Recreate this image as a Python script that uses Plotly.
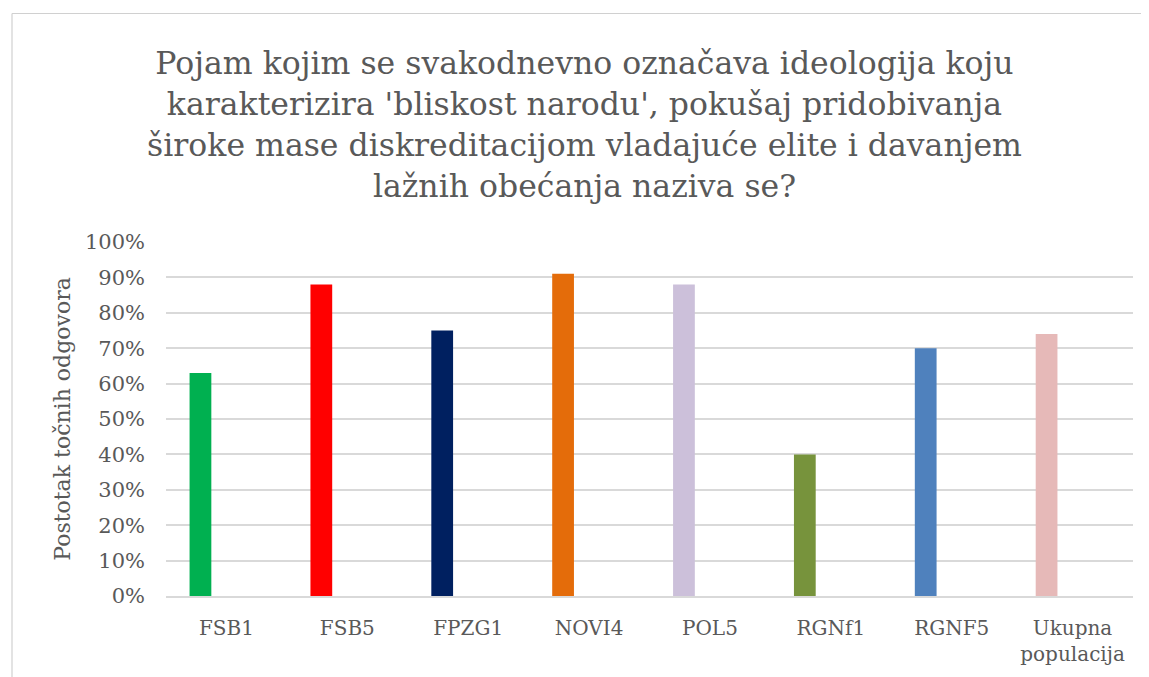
import plotly.graph_objects as go

categories = ["FSB1", "FSB5", "FPZG1", "NOVI4", "POL5", "RGNf1", "RGNF5", "Ukupna<br>populacija"]
values = [0.63, 0.88, 0.75, 0.91, 0.88, 0.40, 0.70, 0.74]
colors = ["#00B050", "#FF0000", "#002060", "#E46C0A", "#CCC0DA", "#77933C", "#4F81BD", "#E6B9B8"]
y_ticks = [0, 0.1, 0.2, 0.3, 0.4, 0.5, 0.6, 0.7, 0.8, 0.9, 1.0]
y_labels = ["0%", "10%", "20%", "30%", "40%", "50%", "60%", "70%", "80%", "90%", "100%"]
title_text = ("Pojam kojim se svakodnevno označava ideologija koju<br>"
              "karakterizira 'bliskost narodu', pokušaj pridobivanja<br>"
              "široke mase diskreditacijom vladajuće elite i davanjem<br>"
              "lažnih obećanja naziva se?")
y_title = "Postotak točnih odgovora"

FONT = "DejaVu Serif"
GREY = "#595959"

# page body has an 8px default margin
OFF = 8
W, H = 1149 - OFF, 677 - OFF
L, R, T, B = 166 - OFF, 16, 242 - OFF, 81
PW, PH = W - L - R, H - T - B

def px_x(x):  # screen x -> paper
    return (x - OFF - L) / PW

def px_y(y):  # screen y -> paper
    return (H - B - (y - OFF)) / PH

fig = go.Figure()
fig.add_trace(go.Bar(
    x=categories, y=values, marker=dict(color=colors, line=dict(width=0)),
    width=0.18, offset=-0.305, hoverinfo="x+y",
))

fig.update_layout(
    width=W, height=H,
    margin=dict(l=L, r=R, t=T, b=B),
    paper_bgcolor="white", plot_bgcolor="white",
    showlegend=False,
    font=dict(family=FONT, color=GREY, size=20),
    title=dict(text=title_text, x=(584.5 - OFF) / W, xref="container", xanchor="center",
               y=1 - (74 - OFF) / H, yref="container", yanchor="top",
               font=dict(family=FONT, size=31.5, color=GREY)),
    xaxis=dict(range=[-0.5, 7.5], showgrid=False, showline=True, linecolor="#d9d9d9",
               linewidth=1.5, ticks="", tickfont=dict(size=20, color=GREY),
               ticklabelstandoff=13, fixedrange=True),
    yaxis=dict(range=[0, 1], tickvals=y_ticks, ticktext=y_labels, showgrid=True,
               gridcolor="#d9d9d9", gridwidth=1.5, zeroline=False, showline=False,
               ticks="", ticklabelstandoff=20, tickfont=dict(size=21, color=GREY),
               title=dict(text=y_title, font=dict(size=22, color=GREY), standoff=8),
               fixedrange=True),
    shapes=[
        dict(type="line", xref="paper", yref="paper",
             x0=px_x(12), x1=px_x(1160), y0=px_y(13.5), y1=px_y(13.5),
             line=dict(color="#d0d0d0", width=1.2)),
        dict(type="line", xref="paper", yref="paper",
             x0=px_x(12), x1=px_x(12), y0=px_y(13.5), y1=px_y(690),
             line=dict(color="#d0d0d0", width=1.2)),
    ],
)

fig.write_html("out.html")
